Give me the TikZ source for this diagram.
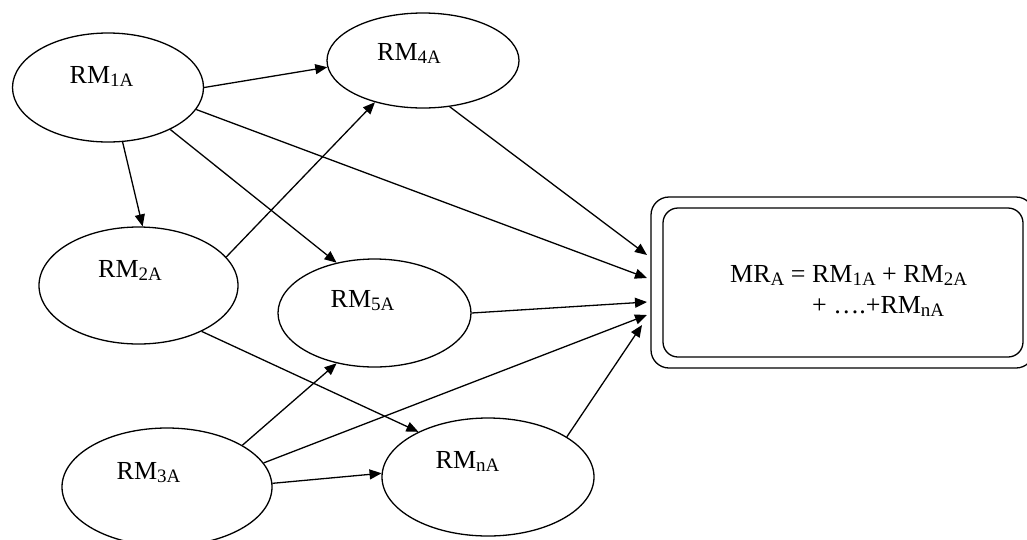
\documentclass[tikz,border=0pt]{standalone}
\usepackage{fontspec}
\setmainfont{Liberation Serif}
\usetikzlibrary{shapes.geometric,arrows.meta}

% lowered subscript in the word-processor style
\newcommand\lowsub[1]{\raisebox{-3pt}{\fontsize{19}{19}\selectfont #1}}

\tikzset{
  oval/.style={ellipse, draw, line width=1.3pt, inner sep=0pt},
  lbl/.style={anchor=base, inner sep=0pt, font=\fontsize{26}{31}\selectfont},
  link/.style={line width=1.3pt, -{Triangle[length=12pt,width=10pt]}},
  frame/.style={draw, line width=1.3pt, rectangle, inner sep=0pt}
}

\begin{document}
\begin{tikzpicture}[x=1pt,y=-1pt]
\useasboundingbox (0,0) rectangle (1027,539);
\clip (0,0) rectangle (1027,539);

% rating model ovals
\node[oval, minimum width=191pt, minimum height=109pt] (e1) at (108,87.5) {};
\node[oval, minimum width=192pt, minimum height=95pt]  (e4) at (423,60.5) {};
\node[oval, minimum width=199pt, minimum height=117pt] (e2) at (138.5,285.5) {};
\node[oval, minimum width=193pt, minimum height=108pt] (e5) at (374.5,313) {};
\node[oval, minimum width=210pt, minimum height=118pt] (e3) at (167,487) {};
\node[oval, minimum width=212pt, minimum height=118pt] (en) at (488,477) {};

\node[lbl] (t1) at (101.5,83) {RM\lowsub{1A}};
\node[lbl] (t4) at (409,60)   {RM\lowsub{4A}};
\node[lbl] (t2) at (130,277)  {RM\lowsub{2A}};
\node[lbl] (t5) at (362.5,307){RM\lowsub{5A}};
\node[lbl] (t3) at (148.5,479){RM\lowsub{3A}};
\node[lbl] (tn) at (467.5,468){RM\lowsub{nA}};

% aggregated result box (double rounded frame)
\node[frame, rounded corners=18pt, minimum width=383pt, minimum height=171pt] (mr) at (842.5,282.5) {};
\node[frame, rounded corners=15pt, minimum width=360pt, minimum height=149pt] (mrin) at (843,282.5) {};
\node[lbl, anchor=base west] (f1) at (730,282) {MR\lowsub{A} = RM\lowsub{1A} + RM\lowsub{2A}};
\node[lbl, anchor=base west] (f2) at (812,313) {+ ….+RM\lowsub{nA}};

% entry points on the left side of the box
\coordinate (in1) at (647,255);
\coordinate (in2) at (647,278);
\coordinate (in3) at (647,302);
\coordinate (in4) at (647,315);
\coordinate (in5) at (642,325);

% connectors
\draw[link] (e1.0)     -- (e4.184);
\draw[link] (e1.-75.6) -- (e2.86.6);
\draw[link] (e1.-34.4) -- (e5.127.5);
\draw[link] (e1.-14)   -- (in2);
\draw[link] (e4.-60.4) -- (in1);
\draw[link] (e2.18.8)  -- (e4.221.9);
\draw[link] (e2.-36.1) -- (en.147.8);
\draw[link] (e5.0)     -- (in3);
\draw[link] (e3.29.4)  -- (e5.-127);
\draw[link] (e3.14.3)  -- (in4);
\draw[link] (e3.2.2)   -- (en.178.4);
\draw[link] (en.27.1)  -- (in5);
\end{tikzpicture}
\end{document}
